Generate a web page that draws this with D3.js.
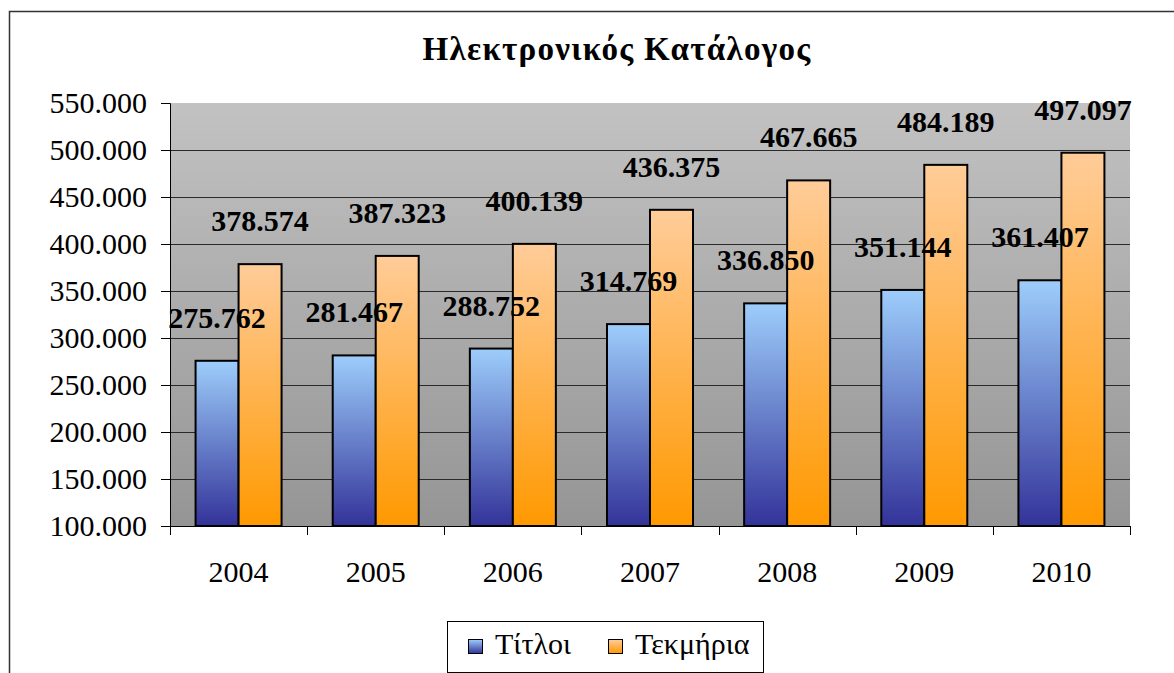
<!DOCTYPE html>
<html>
<head>
<meta charset="utf-8">
<script src="https://cdn.jsdelivr.net/npm/d3@7"></script>
<style>
  body { margin: 0; background: #fff; }
  svg { display: block; }
  svg text { font-family: "Liberation Serif", serif; fill: #000; }
</style>
</head>
<body>
<div id="chart"></div>
<script>
// chart data
var years = ["2004", "2005", "2006", "2007", "2008", "2009", "2010"];
var titloi = [275762, 281467, 288752, 314769, 336850, 351144, 361407];
var tekmiria = [378574, 387323, 400139, 436375, 467665, 484189, 497097];
var seriesNames = ["Τίτλοι", "Τεκμήρια"];
var yTicks = [100000, 150000, 200000, 250000, 300000, 350000, 400000, 450000, 500000, 550000];

var W = 1174, H = 673;
var plot = { left: 170, top: 103, right: 1130, bottom: 526 };
var barW = 43;

var svg = d3.select("#chart").append("svg")
    .attr("width", W)
    .attr("height", H)
    .attr("font-family", "Liberation Serif, serif");

var defs = svg.append("defs");

function vGrad(id, top, bottom) {
    var g = defs.append("linearGradient")
        .attr("id", id)
        .attr("x1", 0).attr("y1", 0)
        .attr("x2", 0).attr("y2", 1);
    g.append("stop").attr("offset", "0%").attr("stop-color", top);
    g.append("stop").attr("offset", "100%").attr("stop-color", bottom);
}
vGrad("bgGrad", "#c2c2c2", "#959595");
vGrad("blueGrad", "#9dcdfb", "#333399");
vGrad("orangeGrad", "#ffcc99", "#ff9900");
var fills = ["url(#blueGrad)", "url(#orangeGrad)"];

// outer chart border (cut off at right and bottom)
svg.append("rect")
    .attr("x", 9.5).attr("y", 11.5)
    .attr("width", W + 40).attr("height", H + 40)
    .attr("fill", "none")
    .attr("stroke", "#333")
    .attr("stroke-width", 1.5);

// title
svg.append("text")
    .attr("x", 617)
    .attr("y", 60)
    .attr("text-anchor", "middle")
    .style("font-size", "33px")
    .style("font-weight", "bold")
    .style("letter-spacing", "1.3px")
    .text("Ηλεκτρονικός Κατάλογος");

var x = d3.scaleBand()
    .domain(years)
    .range([plot.left, plot.right])
    .padding(0);

var y = d3.scaleLinear()
    .domain([100000, 550000])
    .range([plot.bottom, plot.top]);

// plot area background
svg.append("rect")
    .attr("x", plot.left).attr("y", plot.top)
    .attr("width", plot.right - plot.left)
    .attr("height", plot.bottom - plot.top)
    .attr("fill", "url(#bgGrad)");

// gridlines
svg.append("g")
    .selectAll("line")
    .data(yTicks.filter(function(d) { return d > 100000 && d < 550000; }))
    .enter().append("line")
    .attr("x1", plot.left).attr("x2", plot.right)
    .attr("y1", function(d) { return Math.round(y(d)) + 0.5; })
    .attr("y2", function(d) { return Math.round(y(d)) + 0.5; })
    .attr("stroke", "#2a2a2a")
    .attr("stroke-width", 1);

// y axis
var fmt = function(d) { return d3.format(",")(d).replace(/,/g, "."); };
var yAxis = svg.append("g")
    .attr("transform", "translate(" + plot.left + ",0)")
    .call(d3.axisLeft(y).tickValues(yTicks).tickFormat(fmt).tickSize(9).tickPadding(14));
yAxis.attr("font-family", null).attr("font-size", null);
yAxis.select(".domain").attr("stroke", "#000");
yAxis.selectAll(".tick line").attr("stroke", "#000");
yAxis.selectAll("text")
    .style("font-size", "30px")
    .attr("dy", "0.33em");

// x axis (ticks on category boundaries)
svg.append("line")
    .attr("x1", plot.left).attr("x2", plot.right)
    .attr("y1", plot.bottom + 0.5).attr("y2", plot.bottom + 0.5)
    .attr("stroke", "#000");
var bounds = years.map(function(d) { return x(d); }).concat([plot.right]);
svg.append("g").selectAll("line")
    .data(bounds)
    .enter().append("line")
    .attr("x1", function(d) { return Math.round(d) + 0.5; })
    .attr("x2", function(d) { return Math.round(d) + 0.5; })
    .attr("y1", plot.bottom).attr("y2", plot.bottom + 9)
    .attr("stroke", "#000");
svg.append("g").selectAll("text")
    .data(years)
    .enter().append("text")
    .attr("x", function(d) { return x(d) + x.bandwidth() / 2; })
    .attr("y", 582)
    .attr("text-anchor", "middle")
    .style("font-size", "30px")
    .text(function(d) { return d; });

// bars
var series = [titloi, tekmiria];
var labels = [];
series.forEach(function(vals, s) {
    svg.append("g").selectAll("rect")
        .data(vals)
        .enter().append("rect")
        .attr("x", function(d, i) { return x(years[i]) + x.bandwidth() / 2 - barW + s * barW; })
        .attr("y", function(d) { return y(d); })
        .attr("width", barW)
        .attr("height", function(d) { return plot.bottom - y(d); })
        .attr("fill", fills[s])
        .attr("stroke", "#000")
        .attr("stroke-width", 2);
    vals.forEach(function(d, i) {
        labels.push({ v: d, cx: x(years[i]) + x.bandwidth() / 2 - barW / 2 + s * barW });
    });
});

// data labels on top of everything
svg.append("g").selectAll("text")
    .data(labels)
    .enter().append("text")
    .attr("x", function(d) { return d.cx; })
    .attr("y", function(d) { return y(d.v) - 33; })
    .attr("text-anchor", "middle")
    .style("font-size", "30px")
    .style("font-weight", "bold")
    .text(function(d) { return fmt(d.v); });

// legend
var legend = svg.append("g");
legend.append("rect")
    .attr("x", 447.5).attr("y", 621.5)
    .attr("width", 316).attr("height", 51)
    .attr("fill", "#fff")
    .attr("stroke", "#000");
var legX = [468, 608];
seriesNames.forEach(function(name, s) {
    legend.append("rect")
        .attr("x", legX[s] + 0.5).attr("y", 639.5)
        .attr("width", 14).attr("height", 14)
        .attr("fill", fills[s])
        .attr("stroke", "#000");
    legend.append("text")
        .attr("x", legX[s] + 27)
        .attr("y", 654)
        .style("font-size", "30px")
        .style("font-family", "'Liberation Serif', 'DejaVu Serif', serif")
        .text(name);
});
</script>
</body>
</html>
